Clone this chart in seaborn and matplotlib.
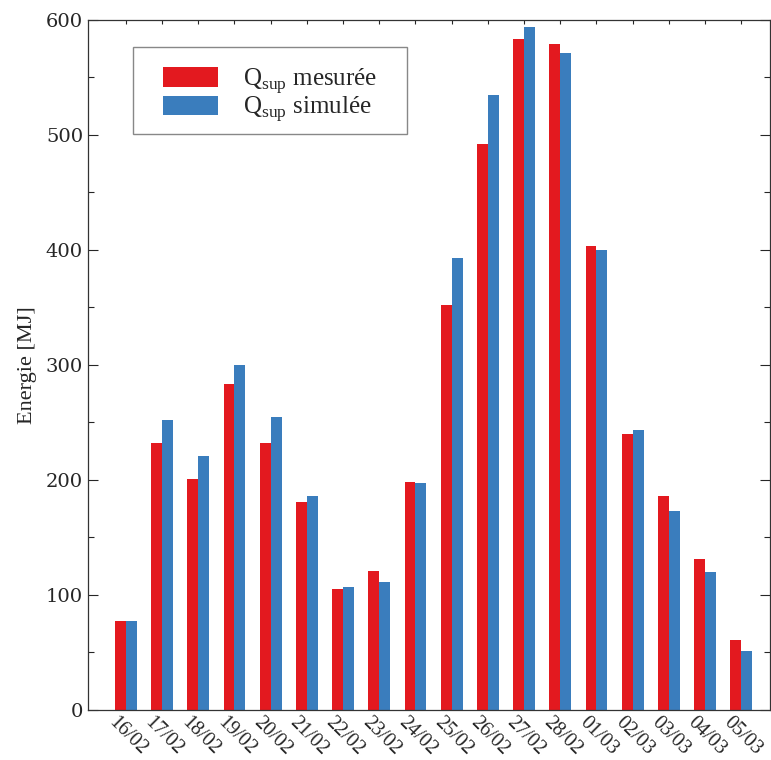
import matplotlib
matplotlib.use("Agg")
from matplotlib import pyplot as plt
from matplotlib.ticker import MultipleLocator
from matplotlib.transforms import ScaledTranslation
from matplotlib.patches import Rectangle
import pandas as pd
import seaborn as sns

dates = ["16/02", "17/02", "18/02", "19/02", "20/02", "21/02", "22/02", "23/02", "24/02",
         "25/02", "26/02", "27/02", "28/02", "01/03", "02/03", "03/03", "04/03", "05/03"]
q_mesuree = [77, 232, 201, 283, 232, 181, 105, 121, 198, 352, 492, 583, 579, 403, 240, 186, 131, 61]
q_simulee = [77, 252, 221, 300, 255, 186, 107, 111, 197, 393, 535, 594, 571, 400, 243, 173, 120, 51]
series = [r"Q$_{\mathrm{sup}}$ mesurée", r"Q$_{\mathrm{sup}}$ simulée"]
colors = ["#e3191f", "#3a7dbd"]

df = pd.DataFrame({
    "date": dates * 2,
    "value": q_mesuree + q_simulee,
    "serie": [series[0]] * len(dates) + [series[1]] * len(dates),
})

sns.set_style("ticks")
plt.rcParams["font.family"] = ["Liberation Serif", "DejaVu Serif"]
plt.rcParams["mathtext.fontset"] = "custom"
plt.rcParams["mathtext.rm"] = "Liberation Serif"

fig = plt.figure(figsize=(7.71, 7.6), dpi=100)
ax = fig.add_axes([0.114, 0.066, 0.885, 0.908])

sns.barplot(data=df, x="date", y="value", hue="serie", hue_order=series,
            palette=colors, width=0.6, saturation=1, linewidth=0, ax=ax, order=dates)

ax.set_ylim(0, 600)
ax.set_xlim(-1.05, 17.8)
ax.yaxis.set_major_locator(MultipleLocator(100))
ax.yaxis.set_minor_locator(MultipleLocator(50))
ax.tick_params(axis="y", which="major", direction="in", length=7, right=True, labelsize=14, width=0.8)
ax.tick_params(axis="y", which="minor", direction="in", length=4, right=True, width=0.8)
ax.tick_params(axis="x", direction="in", length=3, top=True, labelsize=14.5, width=0.8, pad=2)
for lab in ax.get_yticklabels():
    lab.set_family("DejaVu Serif")
# shift the rotated date labels a bit to the left, like the original
shift = ScaledTranslation(-5.5 / 72, 0, fig.dpi_scale_trans)
for lab in ax.get_xticklabels():
    lab.set_rotation(-45)
    lab.set_ha("left")
    lab.set_rotation_mode("anchor")
    lab.set_transform(lab.get_transform() + shift)
for sp in ax.spines.values():
    sp.set_color("#333333")
    sp.set_linewidth(0.9)

ax.set_xlabel("")
ax.set_ylabel("Energie [MJ]", fontsize=16, labelpad=6)

# legend without its own frame, box drawn separately to get the padding of the original
ax.legend(loc="upper left", bbox_to_anchor=(0.084, 0.958), fontsize=18, frameon=False,
          handlelength=2.2, handleheight=0.8, handletextpad=1.0, labelspacing=-0.05,
          borderpad=0.7, borderaxespad=0)
ax.add_patch(Rectangle((0.066, 0.835), 0.402, 0.125, transform=ax.transAxes, fill=False,
                       edgecolor="#888888", linewidth=1.0, zorder=5))

fig.savefig("out.png", dpi=100)
